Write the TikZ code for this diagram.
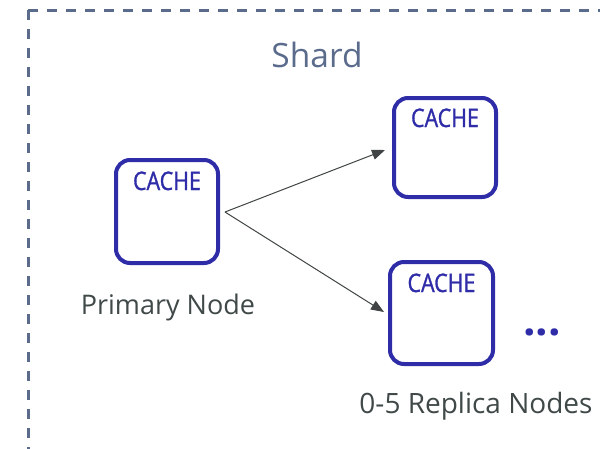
\documentclass[tikz,border=0pt]{standalone}
\usepackage{fontspec}
\setmainfont{Open Sans}
\newfontfamily\cachefont[FakeStretch=0.84,FakeBold=1.2]{Open Sans}
\usetikzlibrary{arrows.meta}
\definecolor{cacheblue}{HTML}{2F2CA8}
\definecolor{shardgray}{HTML}{5B6B8C}
\definecolor{labelgray}{HTML}{404848}
\definecolor{arrowgray}{HTML}{404444}
\tikzset{
  cachebox/.style={draw=cacheblue, line width=4pt, rounded corners=14pt, inner sep=0pt, fill=white},
  cachetext/.style={anchor=base, inner sep=0pt, text=cacheblue, font=\cachefont\fontsize{25.5}{25.5}\selectfont},
  lbl/.style={anchor=base, inner sep=0pt, text=labelgray, font=\fontsize{27}{27}\selectfont},
  arr/.style={draw=arrowgray, line width=1pt, -{Triangle[length=13pt,width=10pt]}},
  border/.style={draw=shardgray, line width=3pt, dash pattern=on 10pt off 9pt},
}
\begin{document}
\begin{tikzpicture}[x=1pt,y=-1pt]
\useasboundingbox (0,0) rectangle (600,448);
\coordinate (corner) at (28,10);
\coordinate (bl) at (28,470);
\coordinate (tr) at (620,10);
\draw[border] (corner) -- (bl);
\draw[border] (corner) -- (tr);
\node[anchor=base, inner sep=0pt, text=shardgray, font=\fontsize{33.5}{33.5}\selectfont] (shard) at (317,67) {Shard};
\node[cachebox, minimum width=102pt, minimum height=103pt] (p) at (167,211.5) {};
\node[cachebox, minimum width=102pt, minimum height=99pt] (r1) at (445,147.5) {};
\node[cachebox, minimum width=103pt, minimum height=102pt] (r2) at (441.5,313) {};
\node[cachetext] (pc) at (167,190) {CACHE};
\node[cachetext] (r1c) at (445,127) {CACHE};
\node[cachetext] (r2c) at (441.5,292) {CACHE};
\node[lbl] (plbl) at (168,314) {Primary Node};
\node[lbl, font=\fontsize{28}{28}\selectfont] (rlbl) at (476,413) {0-5 Replica Nodes};
\node[anchor=base, inner sep=0pt, text=cacheblue, font=\bfseries\fontsize{44}{44}\selectfont] (dots) at (542,335) {...};
\coordinate (s) at (225,212);
\coordinate (t1) at (385,150);
\coordinate (t2) at (384,312);
\draw[arr] (s) -- (t1);
\draw[arr] (s) -- (t2);
\end{tikzpicture}
\end{document}
